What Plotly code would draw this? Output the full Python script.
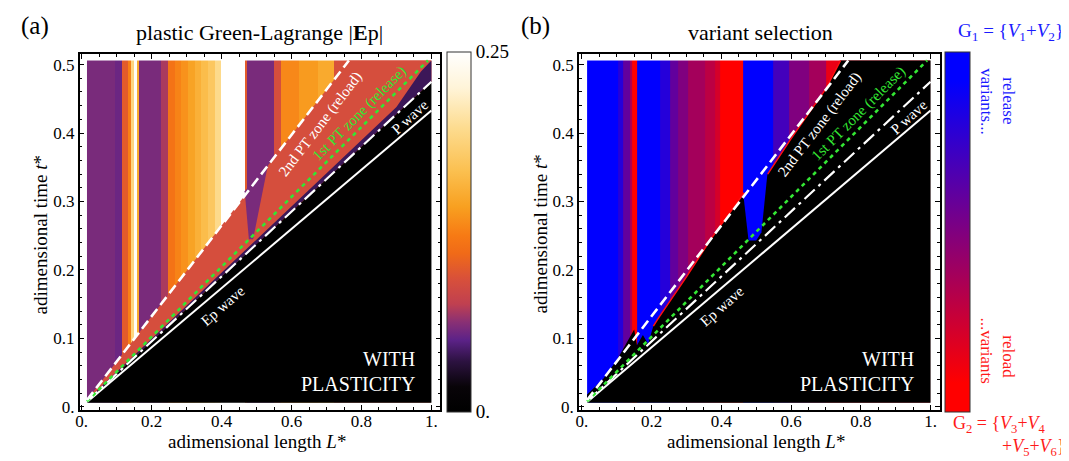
import plotly.graph_objects as go
from plotly.colors import sample_colorscale

W, H = 1069, 461
FONT = "Liberation Serif, Times New Roman, serif"

# ---------------- data ----------------
# panel (a): column edges along L* and |Ep| of each column (region behind the reload front)
ep_edges = [0.015, 0.095, 0.114, 0.133, 0.142, 0.150, 0.157, 0.163, 0.228, 0.247, 0.266,
            0.285, 0.304, 0.323, 0.342, 0.361, 0.380, 0.399, 0.466, 0.472, 0.551, 0.570,
            0.620, 0.675, 0.720, 1.0]
ep_values = [0.058, 0.054, 0.100, 0.125, 0.190, 0.245, 0.150, 0.058, 0.070, 0.117,
             0.127, 0.135, 0.145, 0.155, 0.165, 0.175, 0.195, 0.250, 0.100, 0.058,
             0.090, 0.130, 0.140, 0.150, 0.092]
ep_salmon = 0.090      # |Ep| between release front and reload front
ep_fringe = 0.040      # dark purple fringe over the Ep front

# panel (b): variant selection (1 = G1 release variants, 0 = G2 reload variants)
var_edges = [0.015, 0.105, 0.119, 0.138, 0.143, 0.157, 0.224, 0.252, 0.276, 0.305, 0.352,
             0.381, 0.395, 0.462, 0.548, 0.594, 0.651, 0.700, 1.0]
var_values = [1.0, 0.80, 0.60, 0.35, 0.0, 1.0, 0.80, 0.60, 0.50, 0.38, 0.30, 0.22, 0.0,
              1.0, 0.70, 0.50, 0.38, 0.15]

t_edges = [0.006, 0.506]

# wave fronts (L*, t*)
p_wave_L, p_wave_t = [0.015, 1.0], [0.007, 0.433]
ep_wave_L, ep_wave_t = [0.015, 1.0], [0.008, 0.475]
release_L, release_t = [0.015, 0.99], [0.008, 0.506]
reload_L, reload_t = [0.015, 0.764], [0.010, 0.506]

# panel (a) details
wedge_a_L = [0.466, 0.533, 0.490, 0.478]
wedge_a_t = [0.315, 0.355, 0.245, 0.245]
fringe_a_L = [0.015, 0.5, 0.9, 0.97, 1.0]
fringe_a_t = [0.010, 0.245, 0.438, 0.49, 0.506]

# panel (b): upper edge of the untransformed (black) region
front_b_L = [0.015, 0.06, 0.10, 0.140, 0.150, 0.158, 0.175, 0.19, 0.205, 0.22, 0.30,
             0.37, 0.466, 0.533, 0.60, 0.70, 0.742, 1.0]
front_b_t = [0.018, 0.040, 0.068, 0.105, 0.113, 0.090, 0.105, 0.092, 0.118, 0.130, 0.190,
             0.245, 0.313, 0.340, 0.392, 0.465, 0.506, 0.506]
wedge_b_L = [0.462, 0.533, 0.515, 0.500, 0.478, 0.466]
wedge_b_t = [0.315, 0.345, 0.255, 0.243, 0.243, 0.300]

# ---------------- colours ----------------
sunset = [[0, '#000000'], [0.07, '#080408'], [0.14, '#2c1240'], [0.2, '#5c2288'],
          [0.25, '#8a3074'], [0.30, '#c04050'], [0.37, '#d8503a'], [0.44, '#f06a18'],
          [0.49, '#f77a14'], [0.57, '#f8a020'], [0.67, '#fbc050'], [0.79, '#fddc90'],
          [0.9, '#fff4d8'], [1, '#ffffff']]
redblue = [[0, '#ff0000'], [0.08, '#ff0000'], [0.5, '#80007f'], [0.92, '#0000ff'], [1, '#0000ff']]
EPMAX = 0.25


def ep_color(v):
    return sample_colorscale(sunset, [v / EPMAX])[0]


def px(x):
    return x / W


def py(y):
    return 1 - y / H


fig = go.Figure()

# ---------------- panel (a) ----------------
fig.add_trace(go.Heatmap(
    x=ep_edges, y=t_edges, z=[ep_values], colorscale=sunset, zmin=0, zmax=EPMAX,
    xaxis='x', yaxis='y', hoverinfo='skip',
    colorbar=dict(x=px(437), xanchor='left', y=py(227), yanchor='middle',
                  len=360, lenmode='pixels', thickness=24, thicknessmode='pixels',
                  outlinewidth=1, outlinecolor='#333', xpad=0, ypad=0,
                  tickvals=[0, EPMAX], ticktext=['0.', '0.25'], ticks='',
                  tickfont=dict(family=FONT, size=19, color='black'))))


def poly(xs, ys, color, xa, ya):
    fig.add_trace(go.Scatter(x=xs + [xs[0]], y=ys + [ys[0]], mode='lines', fill='toself',
                             fillcolor=color, line=dict(width=0, color=color),
                             xaxis=xa, yaxis=ya, hoverinfo='skip', showlegend=False))


poly(reload_L + [1.0] + ep_wave_L[::-1], reload_t + [0.506] + ep_wave_t[::-1],
     ep_color(ep_salmon), 'x', 'y')
poly(wedge_a_L, wedge_a_t, ep_color(ep_values[19]), 'x', 'y')
poly(fringe_a_L + ep_wave_L[::-1], fringe_a_t + ep_wave_t[::-1], ep_color(ep_fringe), 'x', 'y')
poly(ep_wave_L + [1.0, 0.015], ep_wave_t + [0.006, 0.006], '#000000', 'x', 'y')

# ---------------- panel (b) ----------------
fig.add_trace(go.Heatmap(
    x=var_edges, y=t_edges, z=[var_values], colorscale=redblue, zmin=0, zmax=1,
    xaxis='x2', yaxis='y2', hoverinfo='skip',
    colorbar=dict(x=px(937), xanchor='left', y=py(227), yanchor='middle',
                  len=360, lenmode='pixels', thickness=25, thicknessmode='pixels',
                  outlinewidth=1, outlinecolor='#333', xpad=0, ypad=0,
                  showticklabels=False, ticks='')))
poly(front_b_L + [1.0, 0.015], front_b_t + [0.006, 0.006], '#000000', 'x2', 'y2')
poly(wedge_b_L, wedge_b_t, '#0000ff', 'x2', 'y2')
for lo, hi in [(0.2, 0.466), (0.533, 0.742)]:
    seg = [(a, b) for a, b in zip(front_b_L, front_b_t) if lo <= a <= hi]
    fig.add_trace(go.Scatter(x=[s[0] for s in seg], y=[s[1] for s in seg], mode='lines',
                             line=dict(color='#ff1010', width=1.5), xaxis='x2', yaxis='y2',
                             hoverinfo='skip', showlegend=False))

# ---------------- fronts on both panels ----------------
for xa, ya in [('x', 'y'), ('x2', 'y2')]:
    fig.add_trace(go.Scatter(x=p_wave_L, y=p_wave_t, mode='lines',
                             line=dict(color='white', width=2), xaxis=xa, yaxis=ya,
                             hoverinfo='skip', showlegend=False))
    fig.add_trace(go.Scatter(x=ep_wave_L, y=ep_wave_t, mode='lines',
                             line=dict(color='white', width=2.2, dash='14px,5px,3px,5px'),
                             xaxis=xa, yaxis=ya, hoverinfo='skip', showlegend=False))
    fig.add_trace(go.Scatter(x=release_L, y=release_t, mode='lines',
                             line=dict(color='#33e633', width=2.6, dash='4px,4px'),
                             xaxis=xa, yaxis=ya, hoverinfo='skip', showlegend=False))
    fig.add_trace(go.Scatter(x=reload_L, y=reload_t, mode='lines',
                             line=dict(color='white', width=2.6, dash='10px,5px'),
                             xaxis=xa, yaxis=ya, hoverinfo='skip', showlegend=False))

# ---------------- axes ----------------
xt = [0, 0.2, 0.4, 0.6, 0.8, 1.0]
xtt = ['0.', '0.2', '0.4', '0.6', '0.8', '1.']
yt = [0, 0.1, 0.2, 0.3, 0.4, 0.5]
ytt = ['0.', '0.1', '0.2', '0.3', '0.4', '0.5']
tickfont = dict(family=FONT, size=17, color='black')
common = dict(showgrid=False, zeroline=False, showline=True, linecolor='black', linewidth=1.5,
              mirror='allticks', ticks='inside', ticklen=5, tickcolor='black', tickfont=tickfont)
ydom = [py(408), py(47)]
xminor = dict(dtick=0.05, tick0=0, ticklen=3, ticks='inside', tickcolor='black')
yminor = dict(dtick=0.02, tick0=0, ticklen=3, ticks='inside', tickcolor='black')
fig.update_layout(
    width=W, height=H, margin=dict(l=0, r=0, t=0, b=0),
    paper_bgcolor='white', plot_bgcolor='white', showlegend=False,
    xaxis=dict(domain=[px(68), px(430)], range=[-0.0057, 1.0256], anchor='y',
               tickvals=xt, ticktext=xtt, minor=xminor, ticklabelstandoff=-5, **common),
    yaxis=dict(domain=ydom, range=[-0.0043, 0.5151], anchor='x',
               tickvals=yt, ticktext=ytt, minor=yminor, **common),
    xaxis2=dict(domain=[px(569), px(931)], range=[-0.0086, 1.0257], anchor='y2',
                tickvals=xt, ticktext=xtt, minor=xminor, ticklabelstandoff=-5, **common),
    yaxis2=dict(domain=ydom, range=[-0.0043, 0.5151], anchor='x2',
                tickvals=yt, ticktext=ytt, minor=yminor, **common),
)

# ---------------- text ----------------
ann = []


def add(text, x, y, size, color='black', angle=0, xref='paper', yref='paper',
        xanchor='center', yanchor='middle', align='center'):
    ann.append(dict(text=text, x=x, y=y, xref=xref, yref=yref, showarrow=False,
                    textangle=angle, xanchor=xanchor, yanchor=yanchor, align=align,
                    font=dict(family=FONT, size=size, color=color)))


add('(a)', px(23), py(18), 25)
add('(b)', px(525), py(18), 25)
add('plastic Green-Lagrange |<b>E</b>p|', px(248), py(25), 22)
add('variant selection', px(751), py(25), 22)
add('adimensional length <i>L</i>*', px(246), py(440), 19)
add('adimensional length <i>L</i>*', px(747), py(440), 19)
add('adimensional time <i>t</i>*', px(29), py(230), 19, angle=-90)
add('adimensional time <i>t</i>*', px(530), py(230), 19, angle=-90)

for xr, yr in [('x', 'y'), ('x2', 'y2')]:
    add('2nd PT zone (reload)', 0.682, 0.413, 15, 'white', -52.7, xr, yr)
    add('1st PT zone (release)', 0.795, 0.428, 15, '#33e633', -45.3, xr, yr)
    add('P wave', 0.938, 0.424, 15, 'white', -42, xr, yr)
    add('Ep wave', 0.403, 0.147, 15, 'white', -41, xr, yr)
    add('WITH', 0.958, 0.070, 20, 'white', 0, xr, yr, xanchor='right')
    add('PLASTICITY', 0.958, 0.034, 20, 'white', 0, xr, yr, xanchor='right')

add('G<sub>1</sub> = {<i>V</i><sub>1</sub>+<i>V</i><sub>2</sub>}', px(1003), py(24), 19, '#1a1aff')
add('G<sub>2</sub> = {<i>V</i><sub>3</sub>+<i>V</i><sub>4</sub>', px(943), py(423), 18, '#ff1a1a',
    xanchor='left')
add('+<i>V</i><sub>5</sub>+<i>V</i><sub>6</sub>}', px(1060), py(446), 18, '#ff1a1a',
    xanchor='right')
add('release', px(1000), py(94), 17, '#1a1aff', 90)
add('variants...', px(978), py(95), 17, '#1a1aff', 90)
add('...variants', px(978), py(348), 17, '#ff1a1a', 90)
add('reload', px(1000), py(354), 17, '#ff1a1a', 90)

fig.update_layout(annotations=ann)
fig.write_html('out.html')
